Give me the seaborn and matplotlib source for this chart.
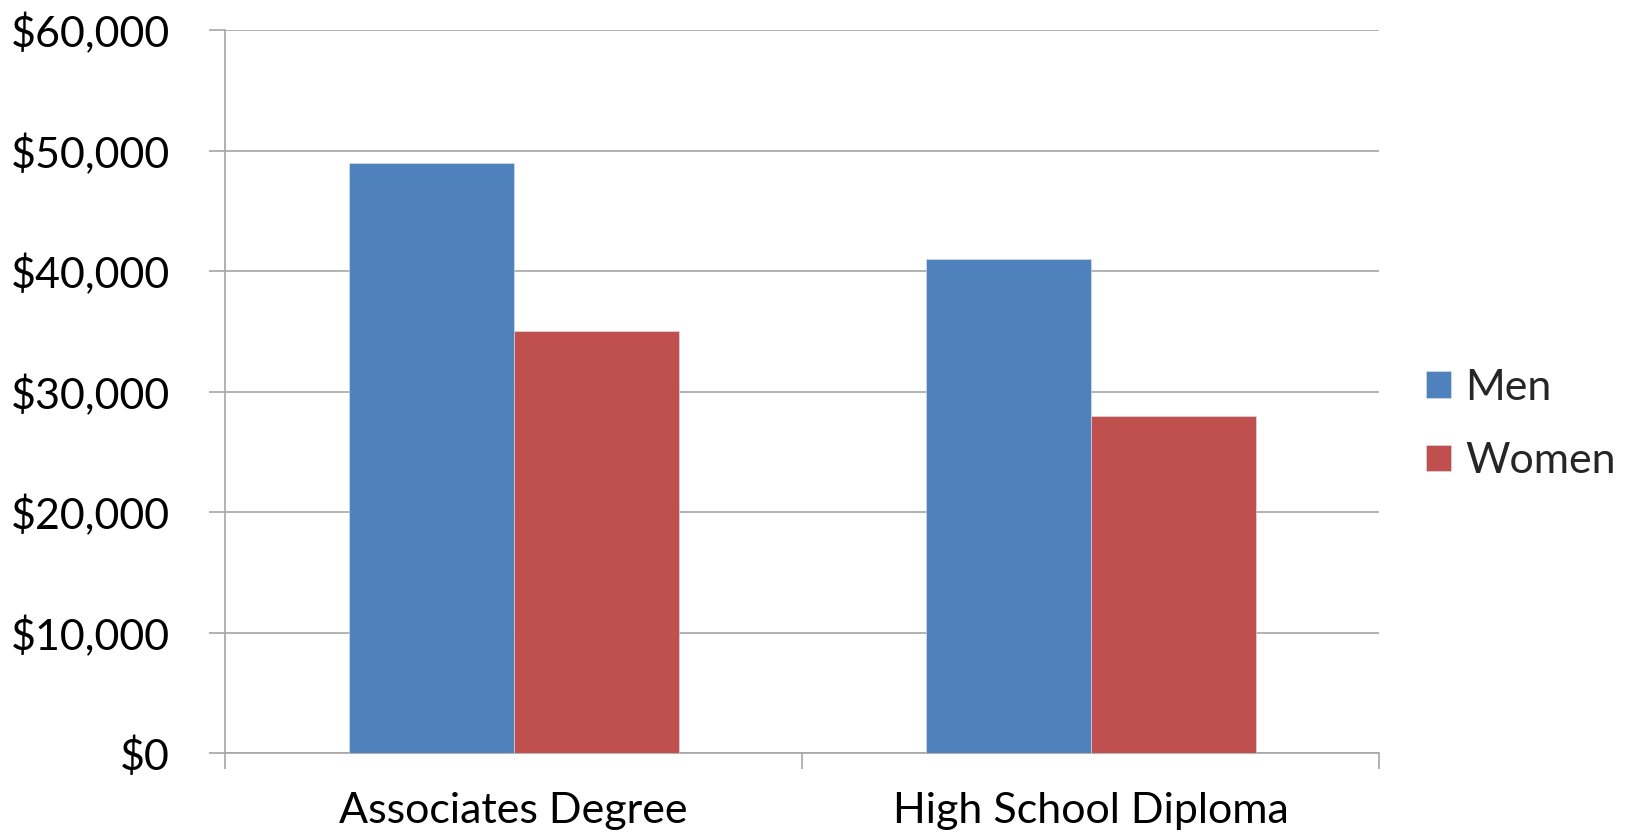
import matplotlib
matplotlib.use("Agg")
import matplotlib.pyplot as plt
from matplotlib.patches import Patch
from matplotlib.ticker import FixedLocator, FuncFormatter
import pandas as pd
import seaborn as sns

# Median earnings by education level and sex
categories = ["Associates Degree", "High School Diploma"]
men = [49000, 41000]
women = [35000, 28000]
series = ["Men", "Women"]
colors = ["#4F81BD", "#C0504D"]
y_ticks = [0, 10000, 20000, 30000, 40000, 50000, 60000]

df = pd.DataFrame({
    "Education": categories * 2,
    "Sex": ["Men"] * len(categories) + ["Women"] * len(categories),
    "Earnings": men + women,
})

sns.set_theme(style="white")
plt.rcParams["font.family"] = ["Lato", "DejaVu Sans"]

FS = 31

fig = plt.figure(figsize=(16.38, 8.39), dpi=100)
ax = fig.add_axes([0.1374, 0.1021, 0.8419 - 0.1374, 0.9642 - 0.1021])

sns.barplot(data=df, x="Education", y="Earnings", hue="Sex",
            hue_order=series, palette=colors, width=0.572,
            saturation=1, ax=ax, legend=False,
            edgecolor="#DCE4F0", linewidth=0.4, zorder=3)

grid_color = "#A6A6A6"
ax.set_ylim(0, 60000)
ax.set_xlim(-0.5, 1.5)
ax.set_yticks(y_ticks)
ax.yaxis.set_major_formatter(FuncFormatter(lambda v, p: f"${v:,.0f}"))
ax.yaxis.grid(True, color=grid_color, linewidth=1.2, zorder=0)
ax.set_axisbelow(True)

ax.set_xlabel("")
ax.set_ylabel("")
ax.xaxis.set_minor_locator(FixedLocator([-0.5, 0.5, 1.5]))
ax.tick_params(axis="x", which="major", length=0, pad=28, labelsize=FS,
               labelcolor="black")
ax.tick_params(axis="x", which="minor", length=11.5, width=1.2,
               color=grid_color, direction="out")
ax.tick_params(axis="y", length=11.5, width=1.2, color=grid_color,
               direction="out", pad=28, labelsize=FS, labelcolor="black")
ax.tick_params(bottom=True, left=True, which="both")

for side in ["top", "right"]:
    ax.spines[side].set_visible(False)
for side in ["left", "bottom"]:
    ax.spines[side].set_color(grid_color)
    ax.spines[side].set_linewidth(1.2)

handles = [Patch(facecolor=c, edgecolor="#DCE4F0", linewidth=0.4, label=s)
           for c, s in zip(colors, series)]
fig.legend(handles=handles, loc="center left",
           bbox_to_anchor=(0.847, 0.494), frameon=False, fontsize=FS,
           handlelength=0.58, handleheight=0.58, handletextpad=0.32,
           labelspacing=0.82)

fig.savefig("out.png", dpi=100)
